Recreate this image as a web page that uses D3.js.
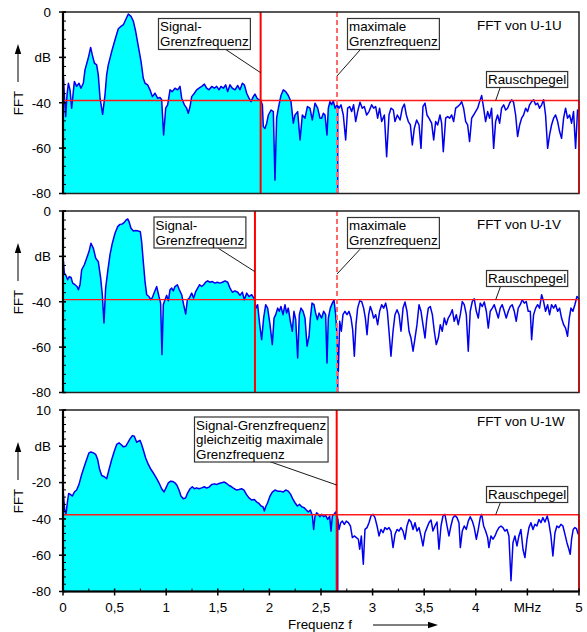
<!DOCTYPE html>
<html lang="de">
  <head>
    <meta charset="UTF-8" />
    <title>FFT U-1U / U-1V / U-1W</title>
    <style>
      body { margin: 0; background: #fff; }
      svg { display: block; font-family: "Liberation Sans", Arial, sans-serif; }
    </style>
    <script src="https://d3js.org/d3.v7.min.js"></script>
  </head>
  <body>
    <svg width="587" height="632"></svg>
    <script>
      // ---- data ----
      var freqTicks = [0, 0.5, 1, 1.5, 2, 2.5, 3, 3.5, 4, 4.5, 5];
      var freqTickLabels = ["0", "0,5", "1", "1,5", "2", "2,5", "3", "3,5", "4", "MHz", "5"];
      var dbTicksUV = [0, -20, -40, -60, -80];
      var dbLabelsUV = ["0", "dB", "-40", "-60", "-80"];
      var dbTicksW = [20, 0, -20, -40, -60, -80];
      var dbLabelsW = ["10", "dB", "-20", "-40", "-60", "-80"];
      var panelTitles = ["FFT von U-1U", "FFT von U-1V", "FFT von U-1W"];
      var noiseLevel = [-39.0, -39.1, -37.7];
      var signalCutoff = [1.915, 1.86, 2.652];
      var maxCutoff = 2.655;
      var fillEnd = 2.662;

      var fftU = [
        [0,-25.5],[0.013,-36.5],[0.026,-46.1],[0.039,-36.5],[0.052,-31.4],[0.068,-34.3],[0.084,-42.4],[0.097,-36.5],[0.110,-30.6],[0.132,-32.8],
        [0.155,-31.4],[0.174,-33.6],[0.197,-31.4],[0.213,-25.5],[0.245,-20.3],[0.268,-15.6],[0.284,-18.9],[0.304,-22.5],[0.326,-23.3],[0.342,-27.7],
        [0.359,-38.0],[0.384,-45.1],[0.407,-36.5],[0.423,-27.7],[0.439,-23.3],[0.472,-17.4],[0.504,-12.2],[0.536,-7.4],[0.562,-6.3],[0.585,-5.6],
        [0.607,-3.4],[0.633,-0.9],[0.659,-1.9],[0.682,-4.1],[0.704,-8.5],[0.730,-15.2],[0.756,-21.8],[0.778,-29.2],[0.795,-31.4],[0.820,-32.1],
        [0.843,-34.3],[0.866,-37.3],[0.891,-35.8],[0.917,-38.0],[0.940,-37.7],[0.956,-38.7],[0.975,-54.2],[0.995,-42.4],[1.014,-40.9],[1.037,-34.3],
        [1.059,-35.1],[1.085,-33.6],[1.111,-34.3],[1.134,-32.8],[1.150,-38.0],[1.176,-40.9],[1.198,-42.4],[1.214,-44.6],[1.231,-41.7],[1.247,-37.3],
        [1.273,-35.8],[1.295,-34.3],[1.318,-33.6],[1.344,-32.8],[1.370,-31.8],[1.392,-33.6],[1.415,-34.3],[1.441,-32.8],[1.466,-33.6],[1.489,-32.8],
        [1.512,-34.3],[1.531,-32.8],[1.554,-33.6],[1.576,-32.1],[1.596,-35.1],[1.618,-32.1],[1.641,-33.6],[1.667,-34.3],[1.693,-32.4],[1.715,-34.3],
        [1.738,-31.4],[1.757,-32.1],[1.780,-35.8],[1.802,-38.0],[1.822,-39.5],[1.844,-37.3],[1.860,-36.2],[1.880,-38.0],[1.899,-38.7],[1.915,-38.9],
        [1.932,-40.9],[1.941,-50.5],[1.957,-51.3],[1.974,-49.0],[1.990,-45.4],[2.016,-43.2],[2.038,-43.9],[2.054,-74.1],[2.070,-46.8],[2.087,-42.4],
        [2.112,-36.8],[2.135,-34.3],[2.158,-35.1],[2.183,-36.8],[2.209,-39.5],[2.232,-49.0],[2.248,-45.4],[2.274,-43.9],[2.297,-56.4],[2.319,-45.4],
        [2.345,-46.8],[2.368,-41.7],[2.393,-42.4],[2.416,-47.6],[2.442,-40.2],[2.468,-42.4],[2.490,-46.8],[2.506,-46.8],[2.523,-44.6],[2.539,-45.4],
        [2.558,-54.2],[2.571,-42.4],[2.587,-39.5],[2.603,-40.9],[2.619,-39.2],[2.636,-42.4],[2.655,-40.9],[2.675,-42.4],[2.694,-40.9],[2.716,-45.4],
        [2.739,-56.4],[2.758,-42.4],[2.778,-41.7],[2.797,-43.9],[2.816,-40.9],[2.836,-48.3],[2.855,-43.9],[2.878,-39.8],[2.900,-42.4],[2.920,-41.7],
        [2.942,-45.4],[2.965,-43.9],[2.991,-40.9],[3.010,-42.4],[3.030,-41.7],[3.049,-46.8],[3.068,-42.4],[3.088,-48.3],[3.114,-45.4],[3.136,-63.8],
        [3.159,-45.4],[3.178,-42.4],[3.201,-43.2],[3.217,-48.3],[3.240,-45.4],[3.266,-47.6],[3.288,-42.4],[3.308,-40.6],[3.327,-45.4],[3.346,-48.3],
        [3.366,-49.8],[3.385,-58.6],[3.404,-51.3],[3.427,-47.6],[3.450,-49.8],[3.469,-60.1],[3.488,-41.7],[3.508,-40.2],[3.527,-45.4],[3.546,-46.8],
        [3.572,-49.0],[3.592,-56.4],[3.611,-48.3],[3.630,-49.8],[3.653,-45.4],[3.669,-49.0],[3.685,-61.6],[3.708,-46.8],[3.727,-46.1],[3.747,-46.8],
        [3.766,-45.4],[3.785,-48.3],[3.805,-42.4],[3.824,-41.7],[3.844,-40.9],[3.863,-39.5],[3.882,-42.4],[3.902,-48.3],[3.921,-49.8],[3.940,-57.1],
        [3.960,-46.8],[3.979,-45.4],[3.998,-43.9],[4.018,-42.4],[4.037,-39.5],[4.057,-36.8],[4.076,-42.4],[4.095,-48.3],[4.115,-43.9],[4.134,-46.8],
        [4.153,-42.4],[4.173,-60.1],[4.192,-48.3],[4.211,-45.4],[4.231,-49.0],[4.250,-42.4],[4.270,-40.9],[4.289,-43.2],[4.308,-42.4],[4.328,-40.2],
        [4.347,-38.7],[4.366,-39.8],[4.386,-45.4],[4.405,-54.9],[4.425,-49.8],[4.444,-46.8],[4.463,-45.4],[4.483,-42.4],[4.502,-43.9],[4.521,-40.9],
        [4.541,-39.5],[4.560,-38.7],[4.580,-40.9],[4.599,-40.2],[4.618,-42.4],[4.638,-40.9],[4.657,-38.7],[4.676,-45.4],[4.696,-60.1],[4.715,-54.2],
        [4.734,-49.8],[4.754,-46.8],[4.773,-45.4],[4.793,-48.3],[4.812,-52.7],[4.831,-55.7],[4.851,-46.8],[4.870,-42.4],[4.889,-46.8],[4.909,-45.4],
        [4.928,-49.0],[4.947,-43.9],[4.967,-60.1],[4.986,-43.2],[5.0,-43.9]
      ];

      var fftV = [
        [0,-20.1],[0.013,-27.4],[0.029,-28.4],[0.045,-30.3],[0.061,-28.9],[0.078,-29.3],[0.094,-31.8],[0.116,-32.5],[0.136,-33.3],[0.149,-34.7],
        [0.165,-32.5],[0.181,-25.9],[0.207,-23.7],[0.229,-20.8],[0.252,-17.9],[0.271,-14.2],[0.294,-16.4],[0.317,-20.8],[0.342,-22.3],[0.365,-29.6],
        [0.381,-36.9],[0.397,-49.4],[0.413,-34.0],[0.433,-26.7],[0.455,-19.3],[0.478,-14.2],[0.504,-9.8],[0.530,-6.9],[0.552,-5.9],[0.575,-5.7],
        [0.594,-5.0],[0.610,-4.0],[0.627,-3.5],[0.640,-4.7],[0.659,-7.6],[0.682,-8.8],[0.704,-8.6],[0.730,-8.8],[0.749,-9.1],[0.762,-13.5],
        [0.778,-22.3],[0.795,-31.1],[0.811,-36.9],[0.833,-37.7],[0.850,-39.1],[0.866,-38.1],[0.885,-35.8],[0.908,-33.3],[0.930,-37.7],[0.946,-40.6],
        [0.959,-63.3],[0.972,-41.3],[0.988,-39.1],[1.005,-37.2],[1.021,-39.6],[1.037,-34.7],[1.053,-34.0],[1.069,-35.2],[1.085,-33.3],[1.108,-32.5],
        [1.127,-34.7],[1.150,-36.9],[1.169,-41.3],[1.189,-45.4],[1.205,-39.1],[1.224,-38.4],[1.247,-36.2],[1.266,-38.4],[1.286,-35.5],[1.305,-34.0],
        [1.324,-32.5],[1.344,-33.3],[1.363,-32.5],[1.382,-31.4],[1.402,-30.8],[1.424,-31.4],[1.447,-31.1],[1.473,-31.8],[1.495,-31.4],[1.521,-31.8],
        [1.544,-31.4],[1.570,-30.8],[1.596,-31.4],[1.618,-34.0],[1.641,-35.8],[1.667,-35.2],[1.693,-35.8],[1.715,-37.2],[1.738,-35.8],[1.757,-39.1],
        [1.780,-36.2],[1.802,-37.7],[1.828,-36.9],[1.854,-38.7],[1.870,-42.8],[1.886,-41.3],[1.906,-50.1],[1.925,-56.7],[1.944,-47.2],[1.964,-41.3],
        [1.983,-42.8],[2.006,-50.1],[2.028,-58.9],[2.045,-47.2],[2.061,-45.7],[2.080,-42.8],[2.096,-44.2],[2.112,-42.1],[2.132,-45.7],[2.151,-41.3],
        [2.167,-45.0],[2.183,-42.8],[2.203,-48.6],[2.222,-53.0],[2.238,-44.2],[2.255,-47.9],[2.274,-64.8],[2.290,-45.7],[2.306,-42.8],[2.326,-44.2],
        [2.345,-47.2],[2.365,-59.6],[2.384,-55.2],[2.397,-47.2],[2.413,-40.6],[2.432,-41.3],[2.448,-45.0],[2.465,-47.9],[2.481,-45.0],[2.506,-47.2],
        [2.526,-44.2],[2.545,-45.7],[2.558,-67.0],[2.571,-47.2],[2.590,-42.8],[2.610,-40.6],[2.626,-39.1],[2.642,-45.7],[2.655,-54.5],[2.668,-70.6],
        [2.681,-48.6],[2.697,-53.0],[2.713,-45.7],[2.732,-44.2],[2.752,-45.7],[2.771,-44.2],[2.791,-47.2],[2.807,-52.3],[2.823,-64.0],[2.839,-50.1],
        [2.855,-42.8],[2.875,-39.6],[2.894,-39.9],[2.913,-42.8],[2.930,-47.2],[2.946,-54.5],[2.962,-45.7],[2.978,-42.1],[2.994,-44.2],[3.010,-47.2],
        [3.030,-45.7],[3.049,-50.1],[3.068,-44.2],[3.088,-41.3],[3.107,-42.8],[3.127,-40.6],[3.143,-44.2],[3.159,-53.0],[3.178,-64.0],[3.198,-53.0],
        [3.217,-45.7],[3.237,-43.5],[3.256,-45.7],[3.275,-53.0],[3.295,-42.8],[3.314,-40.1],[3.333,-44.2],[3.353,-53.0],[3.372,-56.0],[3.392,-61.8],
        [3.411,-56.0],[3.430,-50.1],[3.450,-41.3],[3.469,-44.2],[3.488,-50.1],[3.508,-56.0],[3.524,-47.9],[3.540,-42.8],[3.559,-42.1],[3.579,-45.7],
        [3.598,-53.0],[3.617,-58.9],[3.637,-56.0],[3.656,-50.1],[3.675,-53.0],[3.695,-47.2],[3.714,-50.1],[3.733,-47.2],[3.753,-45.7],[3.772,-43.5],
        [3.791,-48.6],[3.811,-45.7],[3.830,-50.1],[3.850,-45.7],[3.869,-39.9],[3.888,-41.3],[3.908,-45.7],[3.927,-61.8],[3.946,-44.2],[3.966,-39.9],
        [3.985,-38.7],[4.005,-44.2],[4.024,-47.2],[4.043,-40.6],[4.063,-42.1],[4.082,-40.1],[4.102,-44.2],[4.121,-51.6],[4.140,-44.2],[4.160,-42.8],
        [4.179,-41.3],[4.198,-44.2],[4.218,-47.2],[4.237,-42.8],[4.256,-41.3],[4.276,-44.2],[4.295,-47.2],[4.315,-44.2],[4.334,-42.1],[4.353,-41.3],
        [4.373,-44.2],[4.392,-48.6],[4.411,-42.8],[4.431,-41.3],[4.450,-39.1],[4.470,-40.6],[4.489,-39.9],[4.508,-44.2],[4.528,-44.2],[4.541,-56.7],
        [4.560,-45.7],[4.580,-42.8],[4.599,-41.3],[4.618,-42.8],[4.638,-36.9],[4.657,-39.9],[4.676,-44.2],[4.696,-41.3],[4.715,-45.7],[4.734,-41.3],
        [4.754,-42.8],[4.773,-41.3],[4.793,-44.2],[4.812,-42.8],[4.831,-47.2],[4.851,-50.1],[4.870,-51.6],[4.889,-55.2],[4.906,-47.2],[4.922,-42.8],
        [4.941,-44.2],[4.960,-41.3],[4.980,-37.7],[5.0,-38.7]
      ];

      var fftW = [
        [0,-23.8],[0.016,-34.8],[0.029,-37.5],[0.042,-31.1],[0.055,-26.0],[0.071,-26.5],[0.090,-27.4],[0.110,-25.2],[0.132,-24.1],[0.155,-21.0],
        [0.181,-15.5],[0.207,-11.0],[0.229,-7.3],[0.252,-3.6],[0.271,-3.1],[0.294,-3.6],[0.317,-4.5],[0.336,-7.3],[0.355,-12.8],[0.375,-16.1],
        [0.401,-16.8],[0.423,-17.9],[0.446,-12.8],[0.472,-7.3],[0.497,-2.7],[0.520,1.0],[0.543,1.9],[0.562,1.0],[0.585,-0.3],[0.607,0.0],
        [0.627,1.9],[0.649,4.1],[0.672,5.9],[0.691,5.5],[0.714,2.2],[0.730,2.8],[0.746,3.3],[0.762,1.0],[0.782,-2.7],[0.801,-6.4],
        [0.827,-10.0],[0.853,-12.8],[0.879,-15.0],[0.904,-17.4],[0.930,-20.1],[0.956,-23.4],[0.979,-25.2],[0.998,-22.9],[1.021,-20.1],[1.043,-19.2],
        [1.066,-19.4],[1.085,-20.1],[1.105,-21.6],[1.124,-24.1],[1.143,-27.4],[1.166,-28.9],[1.189,-28.4],[1.208,-25.6],[1.231,-23.4],[1.253,-22.3],
        [1.273,-23.4],[1.295,-22.9],[1.318,-23.4],[1.344,-22.9],[1.370,-22.3],[1.392,-23.0],[1.415,-22.5],[1.441,-21.0],[1.466,-20.7],[1.489,-21.0],
        [1.512,-20.5],[1.538,-20.1],[1.563,-19.7],[1.586,-20.5],[1.609,-21.6],[1.634,-22.3],[1.660,-23.4],[1.683,-24.1],[1.705,-23.8],[1.731,-23.4],
        [1.754,-24.1],[1.777,-26.5],[1.802,-28.4],[1.828,-29.6],[1.854,-29.3],[1.877,-30.7],[1.899,-31.5],[1.919,-32.9],[1.938,-33.3],[1.951,-35.7],
        [1.964,-33.3],[1.983,-31.1],[2.006,-27.4],[2.028,-25.2],[2.054,-24.1],[2.080,-24.7],[2.106,-24.7],[2.132,-25.2],[2.158,-24.1],[2.183,-24.7],
        [2.206,-26.5],[2.229,-29.3],[2.248,-31.1],[2.271,-32.9],[2.293,-32.0],[2.313,-33.3],[2.335,-33.8],[2.358,-35.1],[2.377,-36.2],[2.397,-35.1],
        [2.416,-38.1],[2.429,-45.8],[2.442,-38.4],[2.458,-36.6],[2.474,-37.5],[2.490,-38.8],[2.506,-37.5],[2.526,-38.8],[2.545,-38.1],[2.565,-40.3],
        [2.584,-38.4],[2.597,-46.7],[2.610,-38.4],[2.626,-37.5],[2.642,-36.2],[2.658,-38.4],[2.675,-45.8],[2.691,-42.1],[2.707,-41.2],[2.726,-43.0],
        [2.745,-41.2],[2.765,-42.1],[2.785,-43.9],[2.804,-50.3],[2.823,-49.4],[2.843,-50.3],[2.862,-51.2],[2.875,-56.7],[2.891,-49.4],[2.910,-65.0],
        [2.926,-45.8],[2.946,-44.8],[2.965,-42.1],[2.984,-38.4],[3.004,-37.5],[3.023,-39.3],[3.043,-43.9],[3.062,-49.4],[3.081,-45.8],[3.101,-47.6],
        [3.120,-44.8],[3.140,-45.8],[3.159,-44.8],[3.178,-46.7],[3.198,-55.8],[3.217,-48.5],[3.237,-45.8],[3.256,-46.7],[3.275,-44.8],[3.295,-46.7],
        [3.314,-51.2],[3.333,-43.9],[3.353,-40.3],[3.372,-41.7],[3.392,-45.8],[3.411,-42.1],[3.430,-46.7],[3.450,-44.8],[3.469,-49.4],[3.488,-54.9],
        [3.508,-47.6],[3.527,-44.8],[3.546,-42.1],[3.566,-40.6],[3.585,-46.7],[3.604,-43.9],[3.624,-41.7],[3.643,-56.7],[3.663,-43.9],[3.682,-38.4],
        [3.701,-37.5],[3.721,-43.9],[3.740,-49.4],[3.759,-43.9],[3.779,-39.3],[3.798,-38.1],[3.818,-39.3],[3.837,-42.1],[3.850,-55.8],[3.869,-46.7],
        [3.888,-43.9],[3.908,-45.8],[3.927,-41.2],[3.946,-38.8],[3.966,-41.2],[3.985,-44.8],[4.005,-51.2],[4.024,-45.8],[4.043,-39.3],[4.057,-37.5],
        [4.076,-43.9],[4.095,-46.7],[4.115,-50.3],[4.127,-55.8],[4.147,-49.4],[4.166,-51.2],[4.186,-49.4],[4.205,-46.7],[4.224,-44.8],[4.244,-43.9],
        [4.263,-44.8],[4.282,-46.7],[4.302,-45.8],[4.321,-49.4],[4.341,-74.1],[4.360,-53.1],[4.379,-49.4],[4.399,-54.9],[4.418,-49.4],[4.437,-45.8],
        [4.457,-56.7],[4.476,-61.3],[4.496,-51.2],[4.515,-44.8],[4.534,-42.1],[4.554,-45.8],[4.573,-43.0],[4.592,-43.9],[4.612,-40.3],[4.631,-42.1],
        [4.650,-39.3],[4.670,-41.7],[4.692,-38.4],[4.708,-42.1],[4.728,-49.4],[4.747,-60.4],[4.767,-47.6],[4.786,-43.9],[4.805,-44.8],[4.825,-43.0],
        [4.844,-43.9],[4.864,-48.5],[4.883,-53.1],[4.902,-56.7],[4.915,-59.5],[4.928,-51.2],[4.944,-45.8],[4.960,-44.8],[4.976,-45.4],[4.992,-48.5]
      ];

      window.onload = function () {
        var svg = d3.select("svg");
        var left = 63, right = 579, panelH = 181.5;
        var fs = 13.4;
        var panelTops = [12, 211, 410];
        var series = [fftU, fftV, fftW];
        var domains = [[0, -80], [0, -80], [20, -80]];
        var yTicks = [dbTicksUV, dbTicksUV, dbTicksW];
        var yLabels = [dbLabelsUV, dbLabelsUV, dbLabelsW];

        var xScale = d3.scaleLinear().domain([0, 5]).range([left, right]);

        // annotation boxes, offsets relative to panel top
        var notes = [
          [
            { x: 160, y: 19, lines: ["Signal-", "Grenzfrequenz"], from: [225, 37], toF: signalCutoff[0], toY: 60.7 },
            { x: 349, y: 19, lines: ["maximale", "Grenzfrequenz"], from: [360, 38], toF: maxCutoff, toY: 64 },
            { x: 488, y: 72, lines: ["Rauschpegel"], from: [500.7, 74], toX: 495.7, toNoise: true }
          ],
          [
            { x: 155.5, y: 18.5, lines: ["Signal-", "Grenzfrequenz"], from: [218.3, 37.3], toF: signalCutoff[1], toY: 60.7 },
            { x: 349, y: 19, lines: ["maximale", "Grenzfrequenz"], from: [360, 38.3], toF: maxCutoff, toY: 63 },
            { x: 488, y: 72, lines: ["Rauschpegel"], from: [500.7, 75], toX: 495.7, toNoise: true }
          ],
          [
            { x: 196, y: 19.5, lines: ["Signal-Grenzfrequenz", "gleichzeitig maximale", "Grenzfrequenz"], lh: 14.5, from: [270, 51.7], toF: signalCutoff[2], toY: 75 },
            { x: 488, y: 89, lines: ["Rauschpegel"], from: [500.7, 91.7], toX: 495.7, toNoise: true }
          ]
        ];
        var titleY = [18, 17.5, 16];

        svg.append("rect").attr("width", 587).attr("height", 632).attr("fill", "#fff");

        panelTops.forEach(function (top, p) {
          var data = series[p];
          var yScale = d3.scaleLinear().domain(domains[p]).range([top, top + panelH]);
          var bottom = top + panelH;
          var g = svg.append("g");

          // value at the end of the filled region
          var bis = d3.bisector(function (d) { return d[0]; }).left;
          var i = bis(data, fillEnd);
          var a = data[i - 1], b = data[i];
          var endVal = a[1] + (b[1] - a[1]) * (fillEnd - a[0]) / (b[0] - a[0]);
          var areaPts = data.filter(function (d) { return d[0] < fillEnd; }).concat([[fillEnd, endVal]]);

          var area = d3.area()
            .x(function (d) { return xScale(d[0]); })
            .y0(bottom)
            .y1(function (d) { return yScale(d[1]); });
          var line = d3.line()
            .x(function (d) { return xScale(d[0]); })
            .y(function (d) { return yScale(d[1]); });

          g.append("path").attr("d", area(areaPts)).attr("fill", "#00ffff");
          g.append("path")
            .attr("d", line([[fillEnd, endVal], [fillEnd, domains[p][1]]]))
            .attr("stroke", "#0000ee").attr("stroke-width", 1.5).attr("fill", "none");
          g.append("path")
            .attr("d", line(data))
            .attr("fill", "none").attr("stroke", "#0000ee")
            .attr("stroke-width", 1.5).attr("stroke-linejoin", "round");

          // noise level
          g.append("line")
            .attr("x1", left).attr("x2", right)
            .attr("y1", yScale(noiseLevel[p])).attr("y2", yScale(noiseLevel[p]))
            .attr("stroke", "#ff1a1a").attr("stroke-width", 1.3);

          // max cutoff (dashed) for first two panels
          if (p < 2) {
            g.append("line")
              .attr("x1", xScale(maxCutoff)).attr("x2", xScale(maxCutoff))
              .attr("y1", top).attr("y2", bottom)
              .attr("stroke", "#ff6a6a").attr("stroke-width", 2)
              .attr("stroke-dasharray", "5,3");
          }
          g.append("line")
            .attr("x1", xScale(signalCutoff[p])).attr("x2", xScale(signalCutoff[p]))
            .attr("y1", top).attr("y2", bottom)
            .attr("stroke", "#ff0000").attr("stroke-width", 2);

          // frame
          g.append("rect")
            .attr("x", left).attr("y", top)
            .attr("width", right - left).attr("height", panelH)
            .attr("fill", "none").attr("stroke", "#222").attr("stroke-width", 1.5);
          g.append("line")
            .attr("x1", right).attr("x2", right)
            .attr("y1", yScale(noiseLevel[p])).attr("y2", bottom)
            .attr("stroke", "#d00000").attr("stroke-width", 1.5);
          g.append("line").attr("x1", left).attr("x2", left)
            .attr("y1", top).attr("y2", bottom)
            .attr("stroke", "#000").attr("stroke-width", 2.2);

          // y axis ticks
          var minor = d3.range(domains[p][0], domains[p][1] - 1, -4);
          g.selectAll(".ymin").data(minor).join("line")
            .attr("x1", left).attr("x2", left + 3)
            .attr("y1", function (d) { return yScale(d); })
            .attr("y2", function (d) { return yScale(d); })
            .attr("stroke", "#000").attr("stroke-width", 1);
          g.selectAll(".ymaj").data(yTicks[p]).join("line")
            .attr("x1", left - 4).attr("x2", left + 3)
            .attr("y1", function (d) { return yScale(d); })
            .attr("y2", function (d) { return yScale(d); })
            .attr("stroke", "#000").attr("stroke-width", 1.5);
          g.selectAll(".ylab").data(yTicks[p]).join("text")
            .attr("x", 51)
            .attr("y", function (d) { return yScale(d); })
            .attr("dy", "0.36em")
            .attr("text-anchor", "end")
            .attr("font-size", fs)
            .text(function (d, k) { return yLabels[p][k]; });

          // FFT label with arrow
          g.append("text")
            .attr("transform", "translate(23," + (top + 91) + ") rotate(-90)")
            .attr("text-anchor", "middle")
            .attr("font-size", fs)
            .text("FFT");
          g.append("line")
            .attr("x1", 18).attr("x2", 18)
            .attr("y1", top + 70).attr("y2", top + 40)
            .attr("stroke", "#000").attr("stroke-width", 1);
          g.append("path")
            .attr("d", "M18," + (top + 32) + " L14.8," + (top + 42) + " L21.2," + (top + 42) + " Z")
            .attr("fill", "#000");

          // title
          g.append("text")
            .attr("x", 477).attr("y", top + titleY[p])
            .attr("font-size", fs)
            .text(panelTitles[p]);

          // annotations
          notes[p].forEach(function (n) {
            var ng = g.append("g");
            var toX = n.toX !== undefined ? n.toX : xScale(n.toF);
            var toY = n.toNoise ? yScale(noiseLevel[p]) : top + n.toY;
            ng.append("line")
              .attr("x1", n.from[0]).attr("y1", top + n.from[1])
              .attr("x2", toX).attr("y2", toY)
              .attr("stroke", "#000").attr("stroke-width", 0.9);
            var box = ng.append("rect");
            var t = ng.append("text").attr("font-size", fs);
            n.lines.forEach(function (s, k) {
              t.append("tspan")
                .attr("x", n.x)
                .attr("y", top + n.y + k * (n.lh || 15))
                .text(s);
            });
            var bb = t.node().getBBox();
            box.attr("x", bb.x - 1.5).attr("y", bb.y - 0.5)
              .attr("width", bb.width + 3).attr("height", bb.height + 1)
              .attr("fill", "#fff").attr("stroke", "#333").attr("stroke-width", 1.2);
          });

          // x axis only on last panel
          if (p === 2) {
            g.append("line").attr("x1", left).attr("x2", right)
              .attr("y1", bottom).attr("y2", bottom)
              .attr("stroke", "#000").attr("stroke-width", 2.2);
            g.selectAll(".xmin").data(d3.range(0.25, 5, 0.5)).join("line")
              .attr("x1", function (d) { return xScale(d); })
              .attr("x2", function (d) { return xScale(d); })
              .attr("y1", bottom).attr("y2", bottom - 3)
              .attr("stroke", "#000").attr("stroke-width", 1);
            g.selectAll(".xmaj").data(freqTicks).join("line")
              .attr("x1", function (d) { return xScale(d); })
              .attr("x2", function (d) { return xScale(d); })
              .attr("y1", bottom - 3).attr("y2", bottom + 4)
              .attr("stroke", "#000").attr("stroke-width", 1.5);
            g.selectAll(".xlab").data(freqTicks).join("text")
              .attr("x", function (d) { return xScale(d); })
              .attr("y", bottom + 20)
              .attr("text-anchor", "middle")
              .attr("font-size", fs)
              .text(function (d, k) { return freqTickLabels[k]; });

            g.append("text")
              .attr("x", 288).attr("y", 629)
              .attr("font-size", fs)
              .text("Frequenz f");
            g.append("line")
              .attr("x1", 373).attr("x2", 430)
              .attr("y1", 625).attr("y2", 625)
              .attr("stroke", "#000").attr("stroke-width", 1);
            g.append("path")
              .attr("d", "M438,625 L428,621.8 L428,628.2 Z")
              .attr("fill", "#000");
          }
        });
      };
    </script>
  </body>
</html>
